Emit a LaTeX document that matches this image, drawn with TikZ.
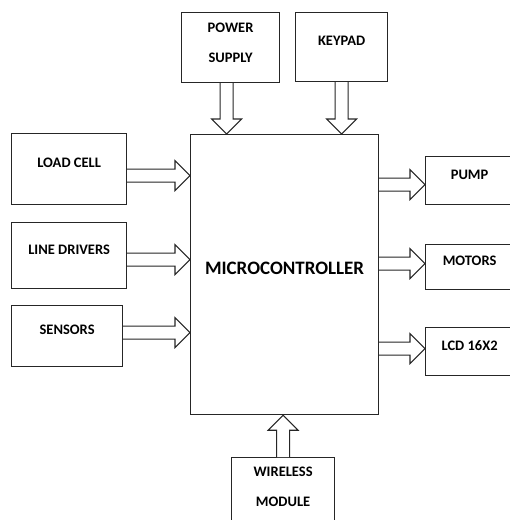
\documentclass[tikz,border=0pt]{standalone}
\usepackage{fontspec}
\setmainfont{Carlito}
\usepackage{tikz}
\usetikzlibrary{calc}
\tikzset{blk/.style={draw=black!85, line width=1.2pt, anchor=north west, inner sep=0pt,
    font=\fontsize{14.5}{17}\selectfont\bfseries},
  oneline/.style={text height=9.2pt, text depth=12pt}}

\begin{document}
\begin{tikzpicture}[
  x=1pt, y=-1pt,
  fat/.style={draw=black!85, line width=1.1pt, fill=white, to path={
    ($(\tikztostart)!6.5pt!90:(\tikztotarget)$)
    -- ($(\tikztotarget)!15pt!(\tikztostart)!6.5pt!90:(\tikztotarget)$)
    -- ($(\tikztotarget)!15pt!(\tikztostart)!15pt!90:(\tikztotarget)$)
    -- (\tikztotarget)
    -- ($(\tikztotarget)!15pt!(\tikztostart)!15pt!-90:(\tikztotarget)$)
    -- ($(\tikztotarget)!15pt!(\tikztostart)!6.5pt!-90:(\tikztotarget)$)
    -- ($(\tikztostart)!6.5pt!-90:(\tikztotarget)$)}}
]
\useasboundingbox (0,0) rectangle (510,520);
% top
\node[blk, minimum width=98, minimum height=70, align=center,
  text height=49.6pt, text depth=20.4pt] (ps) at (181,12) {POWER\\[13pt]SUPPLY};
\node[blk, oneline, minimum width=92, minimum height=69] (kp) at (295,12) {KEYPAD};
% centre
\node[blk, minimum width=188, minimum height=280, font=\fontsize{19}{22}\selectfont\bfseries,
  text height=12pt, text depth=12pt] (mcu) at (190,134) {MICROCONTROLLER};
% left
\node[blk, oneline, minimum width=115, minimum height=71] (lc) at (11,133) {LOAD CELL};
\node[blk, oneline, minimum width=115, minimum height=66] (ld) at (11,222) {LINE DRIVERS};
\node[blk, oneline, minimum width=111, minimum height=61] (sn) at (11,305) {SENSORS};
% right
\node[blk, oneline, minimum width=88, minimum height=48] (pump) at (425,156) {PUMP};
\node[blk, oneline, minimum width=88, minimum height=45] (mot) at (425,244) {MOTORS};
\node[blk, oneline, minimum width=88, minimum height=48] (lcd) at (425,327) {LCD 16X2};
% bottom
\node[blk, minimum width=103, minimum height=66, align=center,
  text height=48.6pt, text depth=17.4pt] (wl) at (231,457) {WIRELESS\\[13pt]MODULE};
% arrows
\draw[fat] ([xshift=-4]ps.south) to ([xshift=-4]ps.south |- mcu.north);
\draw[fat] (kp.south) to (kp.south |- mcu.north);
\draw[fat] ([yshift=-6.5]lc.east) to ([yshift=-6.5]lc.east -| mcu.west);
\draw[fat] ([yshift=-4]ld.east) to ([yshift=-4]ld.east -| mcu.west);
\draw[fat] ([yshift=3.5]sn.east) to ([yshift=3.5]sn.east -| mcu.west);
\draw[fat] ([yshift=-4]pump.west -| mcu.east) to ([yshift=-4]pump.west);
\draw[fat] ([yshift=3.5]mot.west -| mcu.east) to ([yshift=3.5]mot.west);
\draw[fat] ([yshift=3]lcd.west -| mcu.east) to ([yshift=3]lcd.west);
\draw[fat] (wl.north) to (wl.north |- mcu.south);
\end{tikzpicture}
\end{document}
